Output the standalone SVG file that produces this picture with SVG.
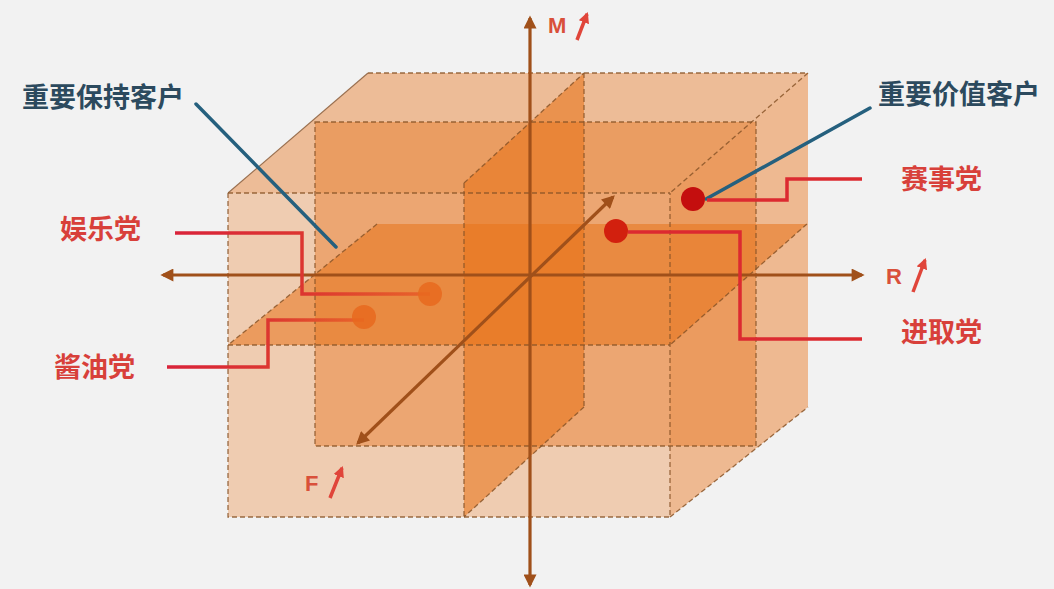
<svg xmlns="http://www.w3.org/2000/svg" width="1054" height="589" viewBox="0 0 1054 589">
<style>
.o{fill:#e8731a}
.dash{fill:none;stroke:#8a5528;stroke-width:1.3;stroke-dasharray:5 3;opacity:.85}
.axis{fill:none;stroke:#a0501a;stroke-width:3.2}
.blue{fill:none;stroke:#25607e;stroke-width:3.5;stroke-linecap:round}
.red{fill:none;stroke-width:3.5}
.lbl{font-family:"Noto Sans CJK SC","Noto Sans",sans-serif;font-weight:bold;font-size:27px}
.key{fill:#2c4a5e}
.grp{fill:#d8403a}
.ax{font-family:"Liberation Sans","Noto Sans",sans-serif;font-weight:bold;font-size:22px;fill:#d9503a}
.sm{fill:none;stroke:#e0453a;stroke-width:3.5}
</style>
<defs>
<marker id="ah" viewBox="0 0 10 10" refX="8" refY="5" markerWidth="15" markerHeight="13" markerUnits="userSpaceOnUse" orient="auto-start-reverse">
<path d="M0,0 L10,5 L0,10 z" fill="#a0501a"/>
</marker>
<marker id="sa" viewBox="0 0 10 10" refX="8" refY="5" markerWidth="11" markerHeight="11" markerUnits="userSpaceOnUse" orient="auto">
<path d="M0,0 L10,5 L0,10 z" fill="#e0453a"/>
</marker>
<linearGradient id="rg" x1="0" y1="0" x2="1" y2="0">
<stop offset="0" stop-color="#d9233a"/>
<stop offset="0.5" stop-color="#dc3530"/>
<stop offset="1" stop-color="#e8652a"/>
</linearGradient>
</defs>
<rect x="0" y="0" width="1054" height="589" fill="#f2f2f2"/>
<g id="cube">
<polygon class="o" opacity="0.42" points="368,73 808,73 670,193 228,193"/>
<polygon class="o" opacity="0.45" points="670,193 808,73 808,407 670,517"/>
<rect class="o" opacity="0.3" x="228" y="193" width="442" height="324"/>
<rect class="o" opacity="0.42" x="315" y="122" width="441" height="324"/>
<polygon class="o" opacity="0.55" points="377,224 807,224 670,345 228,345"/>
<polygon class="o" opacity="0.58" points="584,73 584,407 464,517 464,183"/>
<line x1="368" y1="73" x2="228" y2="193" stroke="#9a7050" stroke-width="1.2"/>
<path class="dash" d="M368,73 H808 M808,73 L670,193 M228,193 H670 M228,193 V517 H670 V193 M670,517 L808,407"/>
<rect class="dash" x="315" y="122" width="441" height="324"/>
<path class="dash" d="M228,345 H670 M377,224 L228,345 M807,224 L670,345"/>
<path class="dash" d="M464,183 L584,73 M464,183 V517 M584,73 V407 M584,407 L464,517"/>
</g>
<g id="axes">
<line class="axis" x1="530" y1="585" x2="530" y2="18" marker-start="url(#ah)" marker-end="url(#ah)"/>
<line class="axis" x1="163" y1="275" x2="862" y2="275" marker-start="url(#ah)" marker-end="url(#ah)"/>
<line class="axis" x1="358" y1="443" x2="613" y2="197" marker-start="url(#ah)" marker-end="url(#ah)"/>
</g>
<g id="connectors">
<line class="blue" x1="196" y1="104" x2="336" y2="247"/>
<line class="blue" x1="706" y1="199" x2="870" y2="108"/>
<path class="red" stroke="url(#rg)" d="M175,233 H302 V294 H430"/>
<path class="red" stroke="url(#rg)" d="M167,367 H268 V320 H364"/>
<path class="red" stroke="#dc2a30" d="M707,200 H787 V179 H862"/>
<path class="red" stroke="#dc2a30" d="M628,232 H740 V339 H862"/>
</g>
<g id="dots">
<circle cx="430" cy="294" r="12" fill="#e8681e" opacity="0.85"/>
<circle cx="364" cy="317" r="12" fill="#e8681e" opacity="0.85"/>
<circle cx="693" cy="199" r="12" fill="#c40e0e"/>
<circle cx="616" cy="231" r="12" fill="#d2200e"/>
</g>
<g id="label-keep"><text class="lbl key" x="22" y="107">重要保持客户</text></g>
<g id="label-value"><text class="lbl key" x="878" y="104">重要价值客户</text></g>
<g id="label-yule"><text class="lbl grp" x="60" y="239">娱乐党</text></g>
<g id="label-jiangyou"><text class="lbl grp" x="54" y="377">酱油党</text></g>
<g id="label-saishi"><text class="lbl grp" x="901" y="189">赛事党</text></g>
<g id="label-jinqu"><text class="lbl grp" x="901" y="342">进取党</text></g>
<g id="label-M"><text class="ax" x="548" y="33">M</text><line class="sm" x1="577" y1="40" x2="587" y2="14" marker-end="url(#sa)"/></g>
<g id="label-R"><text class="ax" x="886" y="284">R</text><line class="sm" x1="913" y1="292" x2="925" y2="260" marker-end="url(#sa)"/></g>
<g id="label-F"><text class="ax" x="305" y="491">F</text><line class="sm" x1="330" y1="498" x2="342" y2="468" marker-end="url(#sa)"/></g>
</svg>
